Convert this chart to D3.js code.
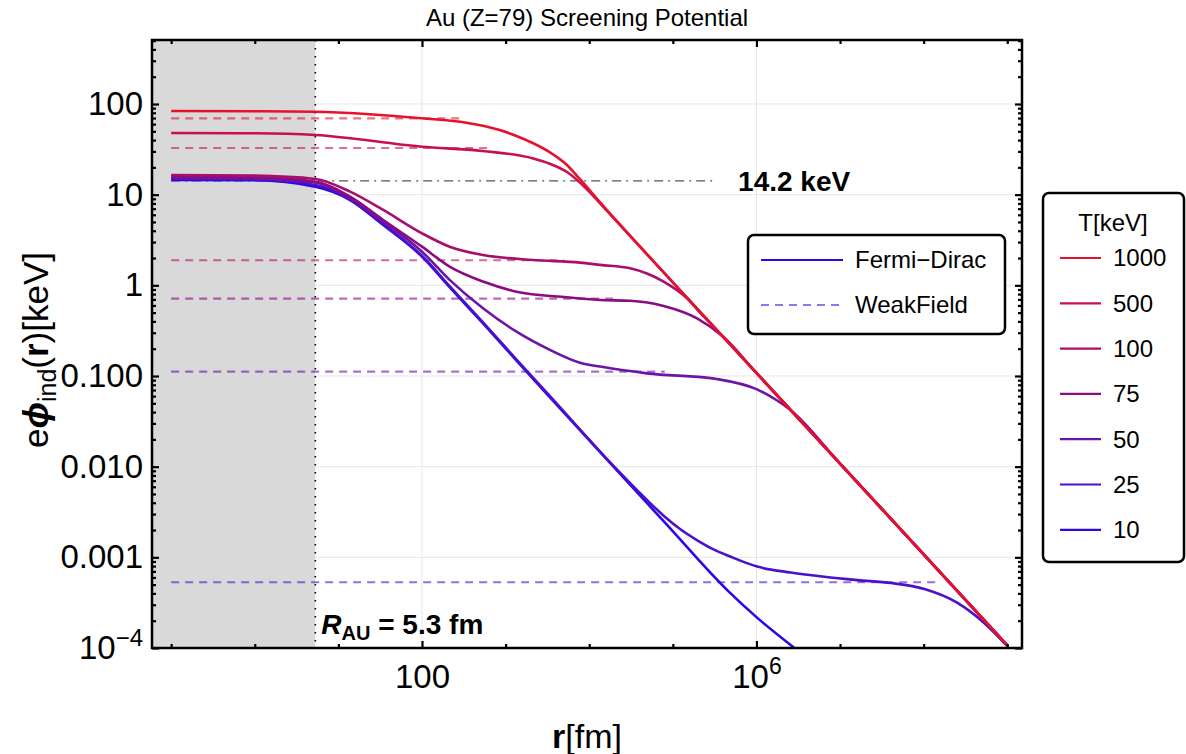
<!DOCTYPE html>
<html>
<head>
<meta charset="utf-8">
<script src="https://cdn.jsdelivr.net/npm/d3@7"></script>
<style>
  body { margin: 0; background: #fff; }
  svg { font-family: "Liberation Sans", Arial, sans-serif; }
</style>
</head>
<body>
<svg id="chart" width="1186" height="754"></svg>
<script>
// temperatures, in legend order, and their line colours
const temps = [1000, 500, 100, 75, 50, 25, 10];
const tempColors = ["#e8112d", "#c90f4c", "#a80f6a", "#8b0c82", "#6c14a6", "#4a10cc", "#2a08ec"];

// Fermi-Dirac potential, [r (fm), e*phi (keV)]
const fd1000 = [[0.1, 83.7], [1, 83.2], [5.3, 82], [100, 69.5], [339, 62.2], [851, 51.6], [1350, 44.4], [2140, 36.9],
  [3390, 29.3], [5370, 21.4], [7760, 14.8], [1.35e4, 8.2], [1e5, 1.08], [1e6, 0.108], [1e7, 0.0108], [1e8, 0.00108],
  [1e9, 1.07e-4]];
const fd500 = [[0.1, 47.9], [1, 47.5], [5.3, 45.5], [100, 33.8], [537, 30.3], [2140, 25.1], [3390, 21.9], [5370, 17.9],
  [1.02e4, 10.6], [1.35e4, 8.0], [1e5, 1.08], [1e6, 0.108], [1e7, 0.0108], [1e8, 0.00108], [1e9, 1.07e-4]];
const fd100 = [[0.1, 16.5], [1, 16.2], [5.3, 14.9], [13.8, 10.8], [34.4, 6.78], [100, 3.75], [214, 2.67], [537, 2.16],
  [2140, 1.9], [7760, 1.78], [1.35e4, 1.68], [3.09e4, 1.54], [4.9e4, 1.35], [7.76e4, 1.10], [1.48e5, 0.72],
  [2.2e5, 0.48], [3e5, 0.357], [1e6, 0.108], [1e7, 0.0108], [1e8, 0.00108], [1e9, 1.07e-4]];
const fd75 = [[0.1, 16.0], [1, 15.7], [5.3, 13.9], [13.8, 9.5], [34.4, 5.26], [100, 2.67], [214, 1.61], [537, 1.10],
  [1350, 0.851], [5370, 0.738], [1.35e4, 0.69], [3.09e4, 0.675], [7.76e4, 0.592], [1.95e5, 0.432], [3.98e5, 0.272],
  [1e6, 0.108], [1e7, 0.0108], [1e8, 0.00108], [1e9, 1.07e-4]];
const fd50 = [[0.1, 15.3], [1, 15.0], [5.3, 13.6], [13.8, 9.1], [34.4, 5.04], [100, 2.35], [214, 1.15], [537, 0.558],
  [1350, 0.308], [3390, 0.194], [7760, 0.14], [1.35e4, 0.127], [4.9e4, 0.107], [3.5e5, 0.092], [1e6, 0.0716],
  [1.75e6, 0.054], [2.57e6, 0.042], [1e7, 0.0108], [1e8, 0.00108], [1e9, 1.07e-4]];
const fd25 = [[0.1, 15.0], [1, 14.8], [5.3, 12.8], [13.8, 8.9], [34.4, 4.75], [100, 2.12], [214, 0.98], [537, 0.39],
  [1350, 0.152], [3390, 0.06], [1.95e4, 0.0102], [4.9e4, 0.0043], [7.76e4, 0.00288], [1.23e5, 0.00204],
  [1.94e5, 0.00155], [3.02e5, 0.00123], [4.85e5, 0.00102], [1.02e6, 7.9e-4], [2.57e6, 6.8e-4], [6.46e6, 6.1e-4],
  [1.62e7, 5.6e-4], [4.07e7, 5.2e-4], [1.02e8, 4.47e-4], [2.51e8, 3.16e-4], [5.25e8, 1.9e-4], [1e9, 1.05e-4]];
const fd10 = [[0.1, 14.5], [1, 14.4], [5.3, 12.2], [13.8, 8.73], [34.4, 4.62], [100, 2.07], [214, 0.955], [537, 0.38],
  [1350, 0.148], [3390, 0.0582], [1.95e4, 0.01], [7.76e4, 0.00251], [4.57e5, 4.27e-4], [1e6, 2.19e-4],
  [2.85e6, 1.0e-4]];
const fdCurves = [fd1000, fd500, fd100, fd75, fd50, fd25, fd10];

// weak field levels (keV) and where each dashed line stops (fm); T=10 lies below the plot
const wfLevels = [69.5, 32.7, 1.89, 0.713, 0.112, 5.31e-4];
const wfEnds = [300, 700, 5000, 2e4, 8e4, 1.45e8];

const rStart = 0.1;
const rNucleus = 5.3;
const kLevel = 14.2;
const kLineEnd = 3.2e5;

const xDomain = [0.059, 1.5e9];
const yDomain = [1e-4, 508];
const xMajor = [100, 1e6];
const xMinor = [0.1, 1, 10, 1000, 1e4, 1e5, 1e7, 1e8, 1e9];
const yMajor = [100, 10, 1, 0.1, 0.01, 0.001, 1e-4];
const yLabels = ["100", "10", "1", "0.100", "0.010", "0.001", "10|−4"];
const xLabels = ["100", "10|6"];

const plotLeft = 152, plotRight = 1022, plotTop = 40, plotBottom = 648;

const svg = d3.select('#chart');

const xScale = d3.scaleLog().domain(xDomain).range([plotLeft, plotRight]);
const yScale = d3.scaleLog().domain(yDomain).range([plotBottom, plotTop]);

svg.append('defs').append('clipPath').attr('id', 'plotClip')
  .append('rect')
  .attr('x', plotLeft).attr('y', plotTop)
  .attr('width', plotRight - plotLeft).attr('height', plotBottom - plotTop);

// grid lines
svg.append('g')
  .selectAll('line.gx').data(xMajor).enter().append('line')
  .attr('x1', d => xScale(d)).attr('x2', d => xScale(d))
  .attr('y1', plotTop).attr('y2', plotBottom)
  .attr('stroke', '#e6e6e6').attr('stroke-width', 1);
svg.append('g')
  .selectAll('line.gy').data(yMajor).enter().append('line')
  .attr('x1', plotLeft).attr('x2', plotRight)
  .attr('y1', d => yScale(d)).attr('y2', d => yScale(d))
  .attr('stroke', '#e6e6e6').attr('stroke-width', 1);

// shaded nucleus region + its dotted edge
svg.append('rect')
  .attr('x', plotLeft).attr('y', plotTop)
  .attr('width', xScale(rNucleus) - plotLeft).attr('height', plotBottom - plotTop)
  .attr('fill', '#d9d9d9');
svg.append('line')
  .attr('x1', xScale(rNucleus)).attr('x2', xScale(rNucleus))
  .attr('y1', plotTop).attr('y2', plotBottom)
  .attr('stroke', '#000').attr('stroke-width', 1.6)
  .attr('stroke-dasharray', '1.6,6.4');

const plot = svg.append('g').attr('clip-path', 'url(#plotClip)');

// K-shell reference level
plot.append('line')
  .attr('x1', xScale(rStart)).attr('x2', xScale(kLineEnd))
  .attr('y1', yScale(kLevel)).attr('y2', yScale(kLevel))
  .attr('stroke', '#555').attr('stroke-width', 1.4)
  .attr('stroke-dasharray', '9,5,2,5');

// weak field (dashed) levels
wfLevels.forEach((level, i) => {
  plot.append('line')
    .attr('x1', xScale(rStart)).attr('x2', xScale(wfEnds[i]))
    .attr('y1', yScale(level)).attr('y2', yScale(level))
    .attr('stroke', tempColors[i]).attr('stroke-opacity', 0.6)
    .attr('stroke-width', 2.2)
    .attr('stroke-dasharray', '8,6');
});

// Fermi-Dirac curves, coldest first so the hot (red) one sits on top
const line = d3.line()
  .x(d => xScale(d[0]))
  .y(d => yScale(d[1]))
  .curve(d3.curveMonotoneX);

for (let i = fdCurves.length - 1; i >= 0; i--) {
  plot.append('path')
    .datum(fdCurves[i])
    .attr('fill', 'none')
    .attr('stroke', tempColors[i])
    .attr('stroke-width', 2.6)
    .attr('stroke-linejoin', 'round')
    .attr('d', line);
}

// frame
svg.append('rect')
  .attr('x', plotLeft).attr('y', plotTop)
  .attr('width', plotRight - plotLeft).attr('height', plotBottom - plotTop)
  .attr('fill', 'none').attr('stroke', '#000').attr('stroke-width', 2.5);

// puts "10|6" style labels as base + superscript
function powerLabel(sel, label, supSize, supShift) {
  const parts = label.split('|');
  sel.text(null);
  sel.append('tspan').text(parts[0]);
  if (parts.length > 1) {
    sel.append('tspan').attr('font-size', supSize).attr('dy', -supShift).text(parts[1]);
  }
}

function styleAxis(g) {
  g.select('.domain').remove();
  g.selectAll('.tick line').attr('stroke', '#000').attr('stroke-width', 2.2);
  g.selectAll('.tick text')
    .attr('fill', '#000')
    .attr('font-size', 33)
    .attr('font-family', '"Liberation Sans", Arial, sans-serif');
}

// x ticks, inward, bottom and top
const yMinor = yScale.ticks().filter(v => !yMajor.some(m => Math.abs(m - v) / m < 1e-6));

svg.append('g').attr('transform', 'translate(0,' + plotBottom + ')')
  .call(d3.axisBottom(xScale).tickValues(xMinor).tickSize(-4).tickFormat(''))
  .call(styleAxis);
svg.append('g').attr('transform', 'translate(0,' + plotBottom + ')')
  .call(d3.axisBottom(xScale).tickValues(xMajor).tickSize(-7).tickPadding(17)
    .tickFormat((d, i) => xLabels[i]))
  .call(styleAxis)
  .selectAll('.tick text')
  .each(function (d, i) { powerLabel(d3.select(this), xLabels[i], 23, 14); });
svg.append('g').attr('transform', 'translate(0,' + plotTop + ')')
  .call(d3.axisTop(xScale).tickValues(xMinor).tickSize(-4).tickFormat(''))
  .call(styleAxis);
svg.append('g').attr('transform', 'translate(0,' + plotTop + ')')
  .call(d3.axisTop(xScale).tickValues(xMajor).tickSize(-7).tickFormat(''))
  .call(styleAxis);

// y ticks, inward, left and right
svg.append('g').attr('transform', 'translate(' + plotLeft + ',0)')
  .call(d3.axisLeft(yScale).tickValues(yMinor).tickSize(-4).tickFormat(''))
  .call(styleAxis);
svg.append('g').attr('transform', 'translate(' + plotLeft + ',0)')
  .call(d3.axisLeft(yScale).tickValues(yMajor).tickSize(-7).tickPadding(9)
    .tickFormat((d, i) => yLabels[i]))
  .call(styleAxis)
  .selectAll('.tick text')
  .each(function (d, i) { powerLabel(d3.select(this), yLabels[i], 24, 13); });
svg.append('g').attr('transform', 'translate(' + plotRight + ',0)')
  .call(d3.axisRight(yScale).tickValues(yMinor).tickSize(-4).tickFormat(''))
  .call(styleAxis);
svg.append('g').attr('transform', 'translate(' + plotRight + ',0)')
  .call(d3.axisRight(yScale).tickValues(yMajor).tickSize(-7).tickFormat(''))
  .call(styleAxis);

// title and axis labels
svg.append('text')
  .attr('x', (plotLeft + plotRight) / 2).attr('y', 26)
  .attr('text-anchor', 'middle').attr('font-size', 24)
  .text('Au (Z=79) Screening Potential');

const xLab = svg.append('text')
  .attr('x', (plotLeft + plotRight) / 2).attr('y', 748)
  .attr('text-anchor', 'middle').attr('font-size', 34);
xLab.append('tspan').attr('font-weight', 'bold').text('r');
xLab.append('tspan').text('[fm]');

const yLab = svg.append('text')
  .attr('transform', 'translate(48,' + ((plotTop + plotBottom) / 2 + 6) + ') rotate(-90)')
  .attr('text-anchor', 'middle').attr('font-size', 35);
yLab.append('tspan').text('e');
yLab.append('tspan').attr('font-style', 'italic').attr('font-weight', 'bold').text('ϕ');
yLab.append('tspan').attr('font-size', 25).attr('dy', 8).text('ind');
yLab.append('tspan').attr('dy', -8).text('(');
yLab.append('tspan').attr('font-weight', 'bold').text('r');
yLab.append('tspan').text(')[keV]');

// annotations
svg.append('text')
  .attr('x', xScale(kLineEnd) + 23).attr('y', yScale(kLevel) + 10)
  .attr('font-size', 28).attr('font-weight', 'bold')
  .text('14.2 keV');

const rLab = svg.append('text')
  .attr('x', xScale(rNucleus) + 6).attr('y', plotBottom - 14)
  .attr('font-size', 28).attr('font-weight', 'bold');
rLab.append('tspan').attr('font-style', 'italic').text('R');
rLab.append('tspan').attr('font-size', 20).attr('dy', 6).text('AU');
rLab.append('tspan').attr('dy', -6).text(' = 5.3 fm');

// legend: line styles
const styleLegend = svg.append('g');
styleLegend.append('rect')
  .attr('x', 748).attr('y', 235).attr('width', 257).attr('height', 99).attr('rx', 6)
  .attr('fill', '#fff').attr('stroke', '#000').attr('stroke-width', 2.5);
styleLegend.append('line')
  .attr('x1', 761).attr('x2', 843).attr('y1', 260).attr('y2', 260)
  .attr('stroke', tempColors[6]).attr('stroke-width', 2.2);
styleLegend.append('line')
  .attr('x1', 761).attr('x2', 843).attr('y1', 305).attr('y2', 305)
  .attr('stroke', tempColors[6]).attr('stroke-opacity', 0.55).attr('stroke-width', 2.2)
  .attr('stroke-dasharray', '8,6');
styleLegend.append('text').attr('x', 855).attr('y', 260).attr('dy', '0.35em')
  .attr('font-size', 24).text('Fermi−Dirac');
styleLegend.append('text').attr('x', 855).attr('y', 305).attr('dy', '0.35em')
  .attr('font-size', 24).text('WeakField');

// legend: temperatures
const tLegend = svg.append('g');
tLegend.append('rect')
  .attr('x', 1043).attr('y', 193).attr('width', 141).attr('height', 369).attr('rx', 6)
  .attr('fill', '#fff').attr('stroke', '#000').attr('stroke-width', 2.5);
tLegend.append('text').attr('x', 1113).attr('y', 231)
  .attr('text-anchor', 'middle').attr('font-size', 24).text('T[keV]');
const items = tLegend.selectAll('g.item').data(temps).enter().append('g')
  .attr('transform', (d, i) => 'translate(0,' + (258 + i * 45.3) + ')');
items.append('line')
  .attr('x1', 1060).attr('x2', 1101)
  .attr('stroke', (d, i) => tempColors[i]).attr('stroke-width', 2.2);
items.append('text')
  .attr('x', 1113).attr('dy', '0.35em').attr('font-size', 24)
  .text(d => d);
</script>
</body>
</html>
